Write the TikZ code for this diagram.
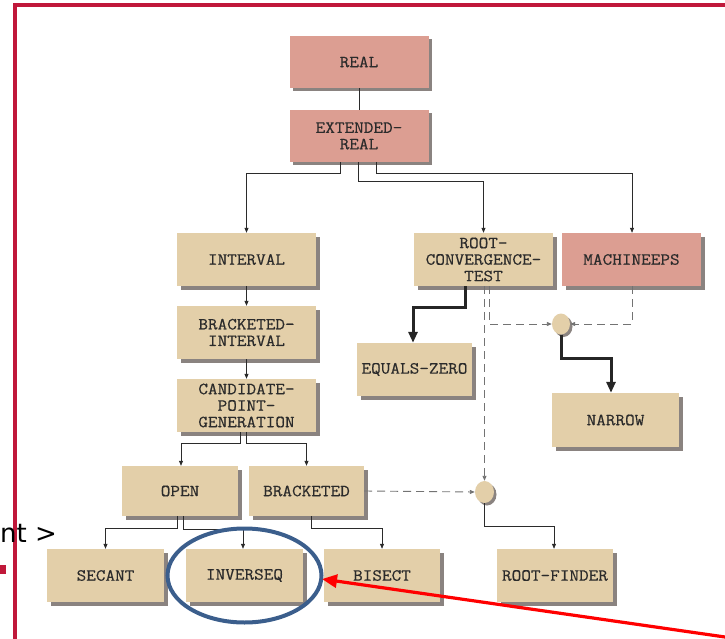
\documentclass[tikz,border=0pt]{standalone}
\usepackage{fontspec}
\newfontfamily\boxfont[FakeStretch=1.1,FakeBold=0.5]{Latin Modern Mono}
\newfontfamily\sansfont{DejaVu Sans}
\usetikzlibrary{shadows,arrows.meta,shapes.geometric}
\definecolor{tanfill}{HTML}{E3CFA9}
\definecolor{pinkfill}{HTML}{DC9E92}
\definecolor{shadowgrey}{HTML}{8A8380}
\definecolor{framered}{HTML}{C0183A}
\definecolor{ringblue}{HTML}{3B5E8C}
\definecolor{inkgrey}{HTML}{2B2B2B}
\tikzset{
  box/.style={fill=tanfill, minimum width=#1, inner sep=0pt, align=center,
    font=\boxfont\fontsize{17}{16.5}\selectfont, text=inkgrey,
    drop shadow={shadow xshift=3.5pt, shadow yshift=-3.5pt, fill=shadowgrey, opacity=1}},
  box/.default=139pt,
  pinkbox/.style={box=#1, fill=pinkfill},
  pinkbox/.default=139pt,
  junction/.style={ellipse, fill=tanfill, inner sep=0pt,
    drop shadow={shadow xshift=2.5pt, shadow yshift=-2.5pt, fill=shadowgrey, opacity=1}},
  conn/.style={draw=inkgrey, line width=0.7pt},
  arr/.style={conn, -{Triangle[length=5pt,width=4pt]}},
  heavy/.style={draw=black!85, line width=3pt, -{Triangle[length=11pt,width=9pt]}},
  dashconn/.style={draw=black!55, line width=0.9pt, dash pattern=on 8pt off 5pt,
    -{Triangle[length=5pt,width=4pt]}},
}
\begin{document}
\begin{tikzpicture}[x=1pt,y=-1pt]
\useasboundingbox (0,0) rectangle (725,639);
\clip (0,0) rectangle (725,639);
% outer frame
\draw[framered, line width=4pt] (15,639) -- (15,5.5) -- (725,5.5);
\fill[framered] (0,565) rectangle (6,574);
\node[anchor=base west, inner sep=0pt, font=\sansfont\fontsize{26}{26}\selectfont] (tail) at (0,542) {nt >};

% boxes
\node[pinkbox, minimum height=52pt] (real) at (359,62) {REAL};
\node[pinkbox, minimum height=52pt] (ext) at (359,136) {EXTENDED-\\REAL};
\node[box, minimum height=53pt] (interval) at (246.5,259.5) {INTERVAL};
\node[box, minimum height=53pt] (rct) at (483.5,259.5) {ROOT-\\CONVERGENCE-\\TEST};
\node[pinkbox, minimum height=53pt] (mach) at (631.5,259.5) {MACHINEEPS};
\node[box=115pt, minimum height=53pt] (eqz) at (414.5,369.5) {EQUALS-ZERO};
\node[box=127pt, minimum height=54pt] (narrow) at (615.5,420) {NARROW};
\node[box, minimum height=53pt] (brint) at (246.5,332.5) {BRACKETED-\\INTERVAL};
\node[box, minimum height=53pt] (cpg) at (246.5,405.5) {CANDIDATE-\\POINT-\\GENERATION};
\node[box=116pt, minimum height=50pt] (open) at (180,491) {OPEN};
\node[box=115pt, minimum height=50pt] (brk) at (306.5,491) {BRACKETED};
\node[box=117pt, minimum height=53pt] (secant) at (105.5,575.5) {SECANT};
\node[box=117pt, minimum height=53pt] (inv) at (244.5,575.5) {INVERSEQ};
\node[box=116pt, minimum height=53pt] (bisect) at (382,575.5) {BISECT};
\node[box=116pt, minimum height=53pt] (rf) at (555,575.5) {ROOT-FINDER};
\node[junction, minimum width=18pt, minimum height=21pt] (c1) at (561,324) {};
\node[junction, minimum width=19pt, minimum height=22pt] (c2) at (484.5,492) {};

% solid connectors
\draw[conn] (real.south) -- (ext.north);
\draw[arr] ([xshift=-19pt]ext.south) -- ++(0,11) -| (interval.north);
\draw[arr] ([xshift=-1pt]ext.south) -- ++(0,19) -| (rct.north);
\draw[arr] ([xshift=17pt]ext.south) -- ++(0,11) -| ([xshift=0.5pt]mach.north);
\draw[arr] (interval.south) -- (brint.north);
\draw[arr] (brint.south) -- (cpg.north);
\draw[arr] ([xshift=-6.5pt]cpg.south) -- ++(0,11) -| ([xshift=1pt]open.north);
\draw[arr] ([xshift=-0.5pt]cpg.south) -- ++(0,11) -| (brk.north);
\draw[arr] ([xshift=-3pt]open.south) -- ++(0,12) -| (secant.north);
\draw[arr] ([xshift=3pt]open.south) -- ++(0,13) -| ([xshift=-1.5pt]inv.north);
\draw[arr] ([xshift=4.5pt]brk.south) -- ++(0,12) -| (bisect.north);
\draw[arr] (c2.south) -- ++(0,23) -| ([xshift=-1pt]rf.north);

% heavy connectors
\draw[heavy] ([xshift=-18.5pt]rct.south) -- ++(0,21) -| ([xshift=-1.5pt]eqz.north);
\draw[heavy] (c1.south) -- ++(0,23.5) -| ([xshift=-4.5pt]narrow.north);

% dashed connectors
\draw[dashconn] ([xshift=5.5pt]rct.south) |- (c1.west);
\draw[dashconn] ([xshift=0.5pt]mach.south) |- (c1.east);
\draw[dashconn] (rct.south -| c2.north) -- (c2.north);
\draw[dashconn] (brk.east) -- (c2.west);

% highlight
\draw[ringblue, line width=4pt] (inv.center) ellipse [x radius=77pt, y radius=47pt];
\coordinate (pointer) at (725,637);
\draw[red, line width=3.2pt, -{Triangle[length=15pt,width=13pt]}] (pointer) -- (322,579);
\end{tikzpicture}
\end{document}
